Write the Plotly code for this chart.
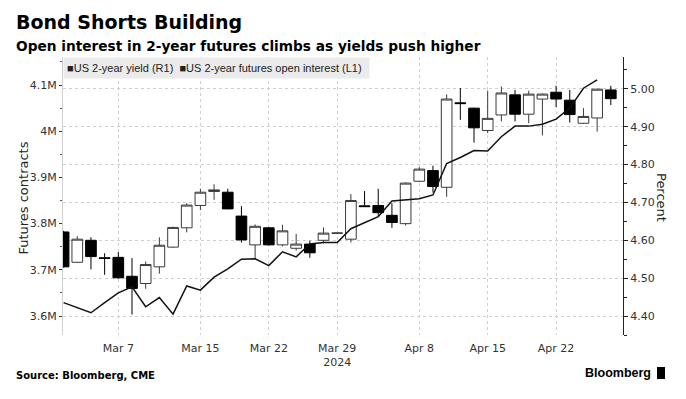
import plotly.graph_objects as go

# ---------------- data ----------------
dates = [
    "2024-03-01", "2024-03-04", "2024-03-05", "2024-03-06", "2024-03-07", "2024-03-08",
    "2024-03-11", "2024-03-12", "2024-03-13", "2024-03-14", "2024-03-15",
    "2024-03-18", "2024-03-19", "2024-03-20", "2024-03-21", "2024-03-22",
    "2024-03-25", "2024-03-26", "2024-03-27", "2024-03-28", "2024-03-29",
    "2024-04-01", "2024-04-02", "2024-04-03", "2024-04-04", "2024-04-05",
    "2024-04-08", "2024-04-09", "2024-04-10", "2024-04-11", "2024-04-12",
    "2024-04-15", "2024-04-16", "2024-04-17", "2024-04-18", "2024-04-19",
    "2024-04-22", "2024-04-23", "2024-04-24", "2024-04-25", "2024-04-26",
]

yield_open = [4.622, 4.542, 4.600, 4.554, 4.555, 4.505, 4.486, 4.530, 4.582, 4.633, 4.692,
              4.729, 4.727, 4.664, 4.588, 4.633, 4.588, 4.579, 4.590, 4.600, 4.619,
              4.603, 4.691, 4.692, 4.666, 4.644, 4.756, 4.784, 4.740, 4.963, 4.949,
              4.890, 4.931, 4.984, 4.933, 4.973, 4.991, 4.970, 4.909, 4.923, 4.997]
yield_high = [4.625, 4.611, 4.608, 4.566, 4.569, 4.553, 4.544, 4.608, 4.636, 4.698, 4.736,
              4.748, 4.736, 4.690, 4.642, 4.635, 4.641, 4.617, 4.599, 4.634, 4.619,
              4.722, 4.730, 4.736, 4.698, 4.753, 4.793, 4.797, 4.985, 5.002, 4.950,
              4.995, 5.006, 4.997, 4.995, 4.988, 5.008, 4.997, 4.949, 5.000, 5.008]
yield_low = [4.528, 4.540, 4.523, 4.509, 4.499, 4.404, 4.472, 4.512, 4.580, 4.621, 4.680,
             4.707, 4.682, 4.594, 4.551, 4.586, 4.584, 4.573, 4.554, 4.592, 4.619,
             4.594, 4.688, 4.662, 4.633, 4.639, 4.754, 4.726, 4.715, 4.918, 4.858,
             4.883, 4.914, 4.914, 4.909, 4.877, 4.952, 4.911, 4.907, 4.887, 4.957]
yield_close = [4.530, 4.603, 4.557, 4.552, 4.501, 4.473, 4.536, 4.587, 4.634, 4.693, 4.727,
               4.733, 4.683, 4.601, 4.637, 4.588, 4.625, 4.590, 4.567, 4.619, 4.619,
               4.705, 4.689, 4.673, 4.647, 4.751, 4.788, 4.742, 4.973, 4.961, 4.897,
               4.922, 4.989, 4.933, 4.986, 4.986, 4.973, 4.932, 4.927, 4.999, 4.974]

# open interest, contracts (last day not yet reported)
open_interest = [3629000, 3618000, 3607000, 3629000, 3650000, 3663000, 3620000, 3640000,
                 3604000, 3665000, 3656000, 3684000, 3702000, 3723000, 3724000, 3709000,
                 3739000, 3728000, 3756000, 3759000, 3759000, 3789000, 3802000, 3815000,
                 3849000, 3851000, 3854000, 3862000, 3930000, 3943000, 3958000, 3957000,
                 3988000, 4011000, 4011000, 4015000, 4026000, 4050000, 4093000, 4111000,
                 None]

tick_dates = ["2024-03-07", "2024-03-15", "2024-03-22", "2024-03-29",
              "2024-04-08", "2024-04-15", "2024-04-22"]
tick_labels = ["Mar 7", "Mar 15", "Mar 22", "Mar 29<br>2024", "Apr 8", "Apr 15", "Apr 22"]

# centre each trading day in its slot
x_days = [d + " 12:00" for d in dates]
x_ticks = [d + " 12:00" for d in tick_dates]

FONT = "DejaVu Sans, Verdana, sans-serif"
NARROW = "Liberation Sans, Arial, sans-serif"

fig = go.Figure()
fig.add_trace(go.Candlestick(
    x=x_days, open=yield_open, high=yield_high, low=yield_low, close=yield_close,
    yaxis="y",
    increasing=dict(line=dict(color="#3a3a3a", width=1), fillcolor="#ffffff"),
    decreasing=dict(line=dict(color="#000000", width=1), fillcolor="#000000"),
    whiskerwidth=0, name="US 2-year yield (R1)", showlegend=False,
))
fig.add_trace(go.Scatter(
    x=x_days, y=open_interest, yaxis="y2", mode="lines",
    line=dict(color="#111111", width=1.5), connectgaps=False,
    name="US 2-year futures open interest (L1)", showlegend=False,
))

PL, PR, PT, PB = 63, 623, 57, 335
PW, PH = PR - PL, PB - PT


def px(xp):
    return (xp - PL) / PW


def py(yp):
    return (PB - yp) / PH


fig.update_layout(
    width=686, height=399,
    margin=dict(l=PL, r=686 - PR, t=PT, b=399 - PB),
    paper_bgcolor="white", plot_bgcolor="white",
    showlegend=False,
    boxgap=0.22, boxgroupgap=0,
    font=dict(family=FONT, size=11, color="#333333"),
    xaxis=dict(
        type="date",
        range=["2024-03-01 10:57", "2024-04-29 09:24"],
        rangebreaks=[dict(bounds=["sat", "mon"])],
        tickvals=x_ticks, ticktext=tick_labels,
        showgrid=True, gridcolor="#cfcfcf", griddash="dot", gridwidth=1,
        ticks="", showline=False, zeroline=False, ticklabelstandoff=5,
        tickfont=dict(family=FONT, size=11, color="#333333"),
        rangeslider=dict(visible=False),
    ),
    yaxis=dict(
        side="right", range=[4.35, 5.084],
        tick0=4.4, dtick=0.1, tickformat=".2f",
        showgrid=True, gridcolor="#cfcfcf", griddash="dot", gridwidth=1,
        showline=True, linecolor="#222222", linewidth=1,
        ticks="outside", ticklen=4, tickcolor="#222222",
        minor=dict(ticks="outside", ticklen=3, tick0=4.35, dtick=0.1,
                   tickcolor="#222222", showgrid=False),
        zeroline=False,
        tickfont=dict(family=FONT, size=11, color="#333333"),
    ),
    yaxis2=dict(
        overlaying="y", side="left", range=[3558900, 4160600],
        tick0=3600000, dtick=100000, tickformat="~s",
        showgrid=False, zeroline=False,
        showline=True, linecolor="#d0d0d0", linewidth=1,
        ticks="outside", ticklen=3, tickcolor="#333333",
        minor=dict(ticks="outside", ticklen=2, tick0=3650000, dtick=100000,
                   tickcolor="#555555", showgrid=False),
        tickfont=dict(family=FONT, size=11, color="#333333"),
    ),
)

annotations = [
    dict(text="<b>Bond Shorts Building</b>", x=px(14), y=py(22), xanchor="left", yanchor="middle",
         font=dict(family=FONT, size=19, color="#000000")),
    dict(text="<b>Open interest in 2-year futures climbs as yields push higher</b>",
         x=px(14), y=py(46), xanchor="left", yanchor="middle",
         font=dict(family=FONT, size=13.7, color="#000000")),
    dict(text="&nbsp;■US 2-year yield (R1)&nbsp;&nbsp;■US 2-year futures open interest (L1)",
         x=0, y=1, xanchor="left", yanchor="top", width=305, height=20, align="left",
         bgcolor="#ebebeb", borderpad=0,
         font=dict(family=NARROW, size=11, color="#222222")),
    dict(text="Futures contracts", x=px(22.6), y=py(198), xanchor="center", yanchor="middle",
         textangle=-90, font=dict(family=FONT, size=13, color="#222222")),
    dict(text="Percent", x=px(662), y=py(197), xanchor="center", yanchor="middle",
         textangle=90, font=dict(family=FONT, size=13, color="#222222")),
    dict(text="<b>Source: Bloomberg, CME</b>", x=px(14), y=py(375), xanchor="left", yanchor="middle",
         font=dict(family=FONT, size=10, color="#000000")),
    dict(text="<b>Bloomberg</b>", x=px(653), y=py(373), xanchor="right", yanchor="middle",
         font=dict(family=NARROW, size=12.5, color="#000000")),
]
for a in annotations:
    a.setdefault("xref", "paper")
    a.setdefault("yref", "paper")
    a.setdefault("showarrow", False)
fig.update_layout(annotations=annotations)

fig.add_shape(type="rect", xref="paper", yref="paper",
              x0=px(657), x1=px(665), y0=py(379), y1=py(367),
              fillcolor="#000000", line=dict(width=0))

fig.write_html("out.html", config={"displayModeBar": False},
               post_script="document.body.style.margin='0';")
